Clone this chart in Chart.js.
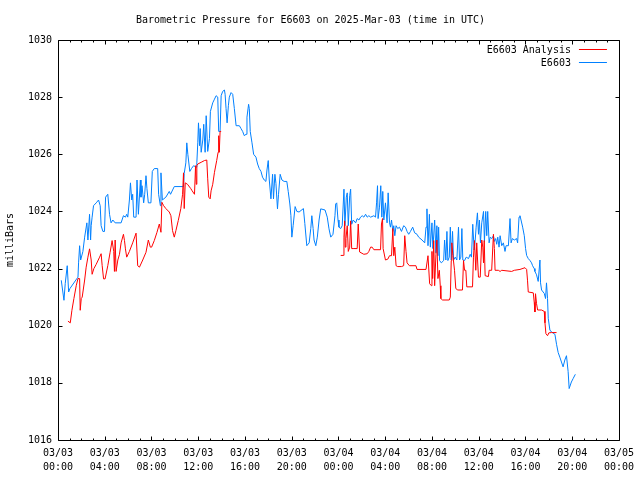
<!DOCTYPE html>
<html>
<head>
<meta charset="utf-8">
<script src="https://cdn.jsdelivr.net/npm/chart.js@4"></script>
<style>
  html, body { margin: 0; padding: 0; background: #fff; }
  canvas { display: block; }
</style>
</head>
<body>
<canvas id="myChart" width="640" height="480"></canvas>
<script>
// hours since 03/03 00:00 UTC
const blueHours = [
  0.28, 0.51, 0.62, 0.79, 0.91, 1.02, 1.53, 1.71, 1.76, 1.85,
  1.94, 2.13, 2.28, 2.47, 2.56, 2.70, 2.79, 2.84, 2.92, 3.04,
  3.27, 3.47, 3.61, 3.69, 3.84, 3.98, 4.07, 4.26, 4.41, 4.54,
  4.69, 4.89, 5.40, 5.60, 5.77, 5.88, 5.97, 6.11, 6.20, 6.31,
  6.39, 6.48, 6.68, 6.76, 6.88, 7.05, 7.10, 7.19, 7.33, 7.42,
  7.53, 7.61, 7.73, 7.95, 8.07, 8.24, 8.53, 8.61, 8.76, 8.81,
  8.93, 9.23, 9.52, 9.63, 9.95, 10.74, 10.80, 10.94, 11.02, 11.11,
  11.28, 11.42, 11.60, 11.83, 11.88, 11.96, 12.02, 12.11, 12.17, 12.25,
  12.39, 12.47, 12.59, 12.68, 12.81, 12.96, 13.04, 13.24, 13.39, 13.53,
  13.67, 13.75, 13.87, 13.96, 14.09, 14.24, 14.30, 14.38, 14.47, 14.58,
  14.66, 14.81, 14.95, 15.09, 15.24, 15.52, 15.66, 15.80, 15.94, 16.09,
  16.17, 16.31, 16.37, 16.45, 16.60, 16.74, 16.94, 17.08, 17.22, 17.37,
  17.50, 17.65, 17.79, 17.88, 17.99, 18.08, 18.22, 18.36, 18.44, 18.56,
  18.65, 18.78, 18.87, 19.01, 19.16, 19.35, 19.58, 19.70, 19.84, 19.93,
  20.01, 20.12, 20.29, 20.44, 20.63, 21.00, 21.12, 21.29, 21.49, 21.63,
  21.72, 21.83, 21.91, 22.06, 22.19, 22.34, 22.48, 22.85, 23.04, 23.19,
  23.34, 23.53, 23.70, 23.76, 23.85, 23.96, 24.04, 24.19, 24.32, 24.47,
  24.55, 24.67, 24.75, 24.84, 24.96, 25.04, 25.13, 25.26, 25.47, 25.60,
  25.75, 25.89, 26.03, 26.17, 26.32, 26.46, 26.60, 26.75, 27.03, 27.17,
  27.26, 27.34, 27.39, 27.51, 27.62, 27.71, 27.79, 27.88, 28.02, 28.16,
  28.25, 28.37, 28.45, 28.54, 28.65, 28.73, 28.82, 28.93, 29.07, 29.22,
  29.39, 29.58, 29.73, 29.87, 30.01, 30.16, 30.35, 30.52, 30.72, 30.86,
  31.15, 31.38, 31.49, 31.57, 31.66, 31.78, 31.86, 32.00, 32.08, 32.23,
  32.34, 32.42, 32.51, 32.57, 32.65, 32.80, 33.00, 33.08, 33.19, 33.28,
  33.36, 33.48, 33.57, 33.65, 33.76, 33.85, 33.99, 34.13, 34.27, 34.36,
  34.47, 34.56, 34.64, 34.79, 34.93, 35.13, 35.27, 35.38, 35.49, 35.61,
  35.70, 35.78, 35.89, 35.98, 36.06, 36.15, 36.26, 36.41, 36.49, 36.60,
  36.69, 36.77, 36.89, 36.98, 37.11, 37.26, 37.34, 37.45, 37.54, 37.63,
  37.74, 37.83, 37.97, 38.11, 38.25, 38.34, 38.54, 38.68, 38.77, 38.88,
  39.05, 39.24, 39.33, 39.45, 39.53, 39.62, 39.76, 39.90, 40.01, 40.10,
  40.24, 40.39, 40.52, 40.61, 40.75, 40.81, 40.95, 41.09, 41.24, 41.29,
  41.38, 41.61, 41.72, 41.80, 41.89, 41.95, 42.09, 42.23, 42.52, 42.66,
  42.80, 42.94, 43.22, 43.37, 43.51, 43.65, 43.74, 43.93, 44.08, 44.27
];
const bluePress = [
  1021.59, 1020.89, 1021.48, 1022.1, 1021.18, 1021.3, 1021.6, 1021.7, 1022.2, 1022.8,
  1022.3, 1022.6, 1023.1, 1023.6, 1023.0, 1023.9, 1023.0, 1023.5, 1023.8, 1024.2,
  1024.3, 1024.4, 1024.2, 1023.5, 1023.3, 1023.3, 1024.5, 1024.6, 1023.9, 1023.6,
  1023.7, 1023.6, 1023.6, 1023.85, 1023.8, 1023.9, 1023.8, 1024.4, 1025.0, 1024.4,
  1024.6, 1023.8, 1023.8, 1025.1, 1023.9, 1025.1, 1024.5, 1024.9, 1024.3, 1024.6,
  1025.25, 1024.8, 1024.3, 1024.3, 1025.4, 1025.5, 1025.5, 1024.6, 1024.2, 1025.35,
  1024.4, 1024.5, 1024.7, 1024.6, 1024.87, 1024.87, 1025.33, 1025.7, 1026.4, 1026.0,
  1025.4, 1025.5, 1025.6, 1025.55, 1025.7, 1026.4, 1027.1, 1026.3, 1026.9, 1026.07,
  1026.5, 1027.05, 1026.07, 1027.35, 1026.1, 1026.55, 1027.5, 1027.8, 1027.93, 1028.05,
  1028.0, 1026.8, 1026.8, 1028.05, 1028.2, 1028.25, 1028.1, 1027.6, 1027.1, 1027.7,
  1028.0, 1028.16, 1028.1, 1027.6, 1027.0, 1027.0, 1026.9, 1026.8, 1026.65, 1026.7,
  1027.3, 1027.75, 1027.6, 1026.8, 1026.4, 1026.0, 1025.9, 1025.66, 1025.5, 1025.4,
  1025.2, 1025.1, 1025.05, 1025.45, 1025.78, 1025.1, 1024.44, 1025.3, 1024.44, 1025.3,
  1024.98, 1024.09, 1024.6, 1025.3, 1025.1, 1025.05, 1025.05, 1024.7, 1024.26, 1023.85,
  1023.1, 1023.5, 1024.17, 1024.0, 1023.98, 1024.1, 1023.58, 1022.8, 1022.9, 1023.4,
  1023.85, 1023.4, 1023.0, 1022.8, 1023.1, 1023.7, 1024.09, 1024.05, 1023.8, 1023.39,
  1023.1, 1023.2, 1023.85, 1024.26, 1024.3, 1023.7, 1023.45, 1023.4, 1023.5, 1024.78,
  1023.5, 1024.5, 1024.65, 1023.5, 1024.55, 1024.78, 1023.55, 1023.7, 1023.6, 1023.75,
  1023.7, 1023.8, 1023.85, 1023.8, 1023.9, 1023.8, 1023.85, 1023.8, 1023.85, 1023.8,
  1024.3, 1024.9, 1023.75, 1024.15, 1024.9, 1023.8, 1024.7, 1023.7, 1024.3, 1023.6,
  1024.65, 1023.6, 1023.45, 1023.7, 1023.3, 1023.5, 1023.15, 1023.5, 1023.4, 1023.45,
  1023.3, 1023.5, 1023.45, 1023.3, 1023.2, 1023.3, 1023.45, 1023.25, 1023.2, 1023.1,
  1023.0, 1022.9, 1023.45, 1024.09, 1022.8, 1023.9, 1022.75, 1023.6, 1022.7, 1023.7,
  1022.55, 1023.5, 1022.45, 1023.45, 1022.28, 1022.2, 1022.28, 1023.0, 1022.3, 1023.3,
  1022.28, 1022.4, 1023.45, 1022.3, 1023.3, 1022.3, 1022.4, 1022.3, 1023.45, 1022.3,
  1022.4, 1023.4, 1022.3, 1022.28, 1022.4, 1022.35, 1022.5, 1022.4, 1023.55, 1022.65,
  1023.0, 1023.45, 1023.95, 1023.2, 1023.7, 1022.9, 1023.6, 1024.0, 1022.95, 1024.0,
  1023.15, 1024.0, 1022.9, 1023.1, 1023.05, 1023.15, 1022.95, 1023.05, 1022.85, 1023.1,
  1022.75, 1023.15, 1022.8, 1022.9, 1022.6, 1022.8, 1022.8, 1023.75, 1022.9, 1023.05,
  1023.0, 1023.05, 1022.9, 1023.8, 1023.85, 1023.7, 1023.45, 1023.15, 1022.7, 1022.46,
  1022.35, 1022.28, 1022.2, 1022.1, 1022.0, 1021.9, 1021.78, 1021.55, 1022.3, 1021.5,
  1021.25, 1021.13, 1020.95, 1021.5, 1020.95, 1020.26, 1019.85, 1019.78, 1019.7, 1019.35,
  1019.06, 1018.9, 1018.56, 1018.8, 1018.95, 1018.4, 1017.8, 1018.03, 1018.15, 1018.3
];

const redHours = [
  0.85, 1.05, 1.19, 1.36, 1.56, 1.71, 1.85, 1.90, 1.99, 2.07,
  2.28, 2.41, 2.56, 2.70, 2.84, 2.92, 3.07, 3.27, 3.56, 3.69,
  3.78, 3.90, 4.03, 4.26, 4.46, 4.63, 4.77, 4.83, 4.89, 4.97,
  5.12, 5.26, 5.40, 5.60, 5.69, 5.77, 5.88, 6.11, 6.39, 6.68,
  6.82, 6.97, 7.25, 7.53, 7.73, 7.90, 8.01, 8.24, 8.47, 8.67,
  8.81, 8.89, 9.04, 9.23, 9.52, 9.66, 9.80, 9.95, 10.09, 10.29,
  10.51, 10.66, 10.74, 10.80, 10.89, 11.08, 11.36, 11.48, 11.68, 11.77,
  11.83, 11.88, 11.96, 12.25, 12.53, 12.73, 12.81, 12.90, 13.02, 13.10,
  13.24, 13.39, 13.58, 13.70, 13.75, 13.80, 13.87, 13.96, 19.00, 24.19,
  24.41, 24.47, 24.53, 24.58, 24.64, 24.75, 24.84, 24.96, 25.04, 25.13,
  25.32, 25.60, 25.69, 25.81, 26.17, 26.46, 26.60, 26.75, 26.88, 27.03,
  27.60, 27.68, 27.77, 27.82, 28.02, 28.22, 28.37, 28.54, 28.65, 28.73,
  28.82, 28.93, 29.07, 29.39, 29.58, 29.67, 29.78, 29.87, 30.07, 30.63,
  30.72, 31.49, 31.57, 31.66, 31.80, 31.95, 32.00, 32.06, 32.15, 32.23,
  32.34, 32.42, 32.51, 32.63, 32.71, 32.76, 32.91, 33.48, 33.57, 33.65,
  33.70, 33.79, 33.93, 34.04, 34.21, 34.61, 34.70, 34.79, 34.90, 34.98,
  35.47, 35.55, 35.64, 35.75, 35.83, 35.92, 35.98, 36.13, 36.26, 36.35,
  36.41, 36.47, 36.55, 36.83, 36.89, 37.11, 37.26, 37.34, 37.40, 37.68,
  37.83, 37.97, 38.82, 39.05, 39.53, 39.96, 40.10, 40.18, 40.24, 40.67,
  40.75, 40.81, 40.86, 40.95, 41.04, 41.38, 41.61, 41.67, 41.75, 41.89,
  42.00, 42.23, 42.66
];
// null = no analysis data (gap in the line)
const redPress = [
  1020.16, 1020.1, 1020.54, 1020.95, 1021.4, 1021.65, 1021.65, 1020.54, 1020.95, 1021.0,
  1021.6, 1022.05, 1022.4, 1022.69, 1022.3, 1021.8, 1022.0, 1022.15, 1022.4, 1022.52,
  1022.1, 1021.64, 1021.64, 1022.1, 1022.57, 1022.98, 1022.6, 1021.9, 1023.0, 1021.9,
  1022.3, 1022.5, 1022.9, 1023.2, 1022.98, 1022.69, 1022.4, 1022.6, 1022.9, 1023.24,
  1022.1, 1022.05, 1022.3, 1022.57, 1023.0, 1022.75, 1022.75, 1022.98, 1023.27, 1023.56,
  1023.27, 1024.32, 1024.2, 1024.1, 1023.98, 1023.85, 1023.33, 1023.1, 1023.33, 1023.68,
  1024.1, 1024.6, 1025.35, 1024.1, 1025.0, 1024.95, 1024.8, 1024.72, 1024.6, 1025.6,
  1024.95, 1025.6, 1025.66, 1025.72, 1025.78, 1025.8, 1025.14, 1024.5, 1024.44, 1024.72,
  1024.95, 1025.37, 1025.78, 1026.07, 1026.65, 1026.07, 1026.8, 1026.8, null, 1022.46,
  1022.46, 1023.1, 1023.67, 1022.75, 1023.05, 1023.5, 1022.6, 1022.75, 1023.67, 1022.7,
  1022.7, 1022.7, 1023.56, 1022.58, 1022.5, 1022.52, 1022.6, 1022.75, 1022.75, 1022.66,
  1022.66, 1023.56, 1023.75, 1022.7, 1022.3, 1022.33, 1022.45, 1022.45, 1023.4, 1022.45,
  1022.75, 1022.1, 1022.07, 1022.07, 1022.1, 1023.15, 1022.6, 1022.2, 1022.1, 1022.1,
  1021.97, 1021.97, 1021.97, 1022.45, 1021.47, 1021.4, 1022.6, 1021.65, 1022.98, 1021.4,
  1022.5, 1023.0, 1021.65, 1021.94, 1021.4, 1020.95, 1020.9, 1020.9, 1021.0, 1022.28,
  1022.9, 1022.46, 1021.94, 1021.3, 1021.25, 1021.25, 1022.28, 1021.94, 1021.94, 1021.36,
  1021.36, 1022.4, 1022.98, 1021.94, 1022.9, 1022.16, 1021.7, 1021.7, 1023.0, 1022.75,
  1022.2, 1022.98, 1021.75, 1021.72, 1021.94, 1021.94, 1023.2, 1022.7, 1021.94, 1021.94,
  1021.9, 1021.94, 1021.9, 1021.94, 1021.97, 1022.03, 1021.97, 1021.57, 1021.18, 1021.15,
  1020.82, 1020.48, 1021.12, 1020.77, 1020.55, 1020.55, 1020.5, 1020.1, 1019.72, 1019.65,
  1019.75, 1019.76, 1019.76
];

const tickDates = ['03/03', '03/03', '03/03', '03/03', '03/03', '03/03', '03/04', '03/04', '03/04', '03/04', '03/04', '03/04', '03/05'];
const tickTimes = ['00:00', '04:00', '08:00', '12:00', '16:00', '20:00', '00:00', '04:00', '08:00', '12:00', '16:00', '20:00', '00:00'];

const mono = "'DejaVu Sans Mono', 'Liberation Mono', monospace";

function toPoints(xs, ys) {
    return xs.map((x, i) => ({ x: x, y: ys[i] }));
}

// gnuplot style frame with inward ticks, plus the right-aligned key
const gnuplotFrame = {
    id: 'gnuplotFrame',
    afterDraw(chart) {
        const ctx = chart.ctx;
        const a = chart.chartArea;
        const xs = chart.scales.x;
        const ys = chart.scales.y;
        const L = Math.round(a.left) + 0.5, R = Math.round(a.right) + 0.5;
        const T = Math.round(a.top) + 0.5, B = Math.round(a.bottom) + 0.5;
        ctx.save();
        ctx.strokeStyle = '#000';
        ctx.lineWidth = 1;
        ctx.beginPath();
        ctx.rect(L, T, R - L, B - T);
        for (let h = 0; h <= 48; h++) {
            const px = Math.round(xs.getPixelForValue(h)) + 0.5;
            const len = h % 4 === 0 ? 4 : 2;
            ctx.moveTo(px, B); ctx.lineTo(px, B - len);
            ctx.moveTo(px, T); ctx.lineTo(px, T + len);
        }
        for (let v = 1016; v <= 1030; v += 2) {
            const py = Math.round(ys.getPixelForValue(v)) + 0.5;
            ctx.moveTo(L, py); ctx.lineTo(L + 4, py);
            ctx.moveTo(R, py); ctx.lineTo(R - 4, py);
        }
        ctx.stroke();

        ctx.font = '10px ' + mono;
        ctx.fillStyle = '#000';
        ctx.textAlign = 'right';
        ctx.textBaseline = 'middle';
        chart.data.datasets.forEach((ds, i) => {
            const y = Math.round(a.top + 9 + i * 12.5) + 0.5;
            ctx.fillText(ds.label, a.right - 48, y + 1);
            ctx.strokeStyle = ds.borderColor;
            ctx.beginPath();
            ctx.moveTo(a.right - 40, y);
            ctx.lineTo(a.right - 12, y);
            ctx.stroke();
        });
        ctx.restore();
    }
};

const ctx = document.getElementById('myChart').getContext('2d');
const myChart = new Chart(ctx, {
    type: 'line',
    data: {
        datasets: [{
            label: 'E6603 Analysis',
            data: toPoints(redHours, redPress),
            borderColor: '#ff0000',
            borderWidth: 1,
            pointRadius: 0,
            tension: 0,
            spanGaps: false,
        }, {
            label: 'E6603',
            data: toPoints(blueHours, bluePress),
            borderColor: '#0080ff',
            borderWidth: 1,
            pointRadius: 0,
            tension: 0,
        }]
    },
    options: {
        responsive: false,
        animation: false,
        layout: { padding: { left: 0, right: 19, top: 0, bottom: 0 } },
        plugins: {
            legend: { display: false },
            tooltip: { enabled: false },
            title: {
                display: true,
                text: 'Barometric Pressure for E6603 on 2025-Mar-03 (time in UTC)',
                color: '#000',
                font: { family: mono, size: 10, weight: 'normal' },
                padding: { top: 14, bottom: 14 }
            }
        },
        scales: {
            x: {
                type: 'linear',
                min: 0,
                max: 48,
                afterFit(s) { s.height = 40; },
                grid: { display: false, drawTicks: false },
                border: { display: false },
                ticks: {
                    stepSize: 4,
                    autoSkip: false,
                    maxRotation: 0,
                    padding: 6,
                    color: '#000',
                    font: { family: mono, size: 10, lineHeight: 1.4 },
                    callback: (value, index) => [tickDates[index], tickTimes[index]]
                }
            },
            y: {
                min: 1016,
                max: 1030,
                afterFit(s) { s.width = 58; },
                grid: { display: false, drawTicks: false },
                border: { display: false },
                title: {
                    display: true,
                    text: 'milliBars',
                    color: '#000',
                    font: { family: mono, size: 10 },
                    padding: { top: 4, bottom: 0 }
                },
                ticks: {
                    stepSize: 2,
                    padding: 6,
                    color: '#000',
                    font: { family: mono, size: 10 },
                    callback: (value) => String(value)
                }
            }
        }
    },
    plugins: [gnuplotFrame]
});
</script>
</body>
</html>
